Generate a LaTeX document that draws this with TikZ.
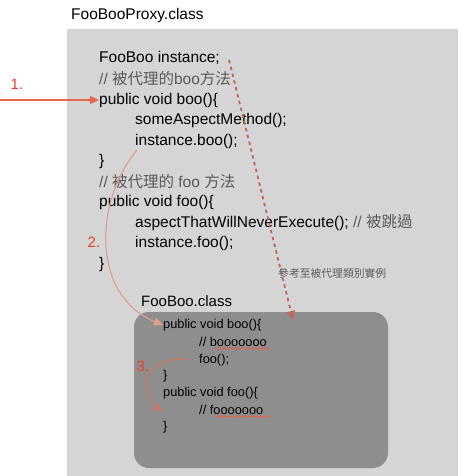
\documentclass[tikz,border=0pt]{standalone}
\usepackage{fontspec}
\setmainfont{Liberation Sans}
\newfontfamily\cjk{Noto Sans CJK TC}
\usetikzlibrary{arrows.meta,decorations.pathmorphing}
\definecolor{lightbg}{HTML}{D5D5D5}
\definecolor{darkbg}{HTML}{8E8E8E}
\definecolor{redlab}{HTML}{E8402A}
\definecolor{arrone}{HTML}{E8674F}
\definecolor{arrtwo}{HTML}{E0A090}
\definecolor{arrthree}{HTML}{C87868}
\definecolor{dasharr}{HTML}{C0675A}
\definecolor{cmt}{HTML}{5A5A5A}
\tikzset{
  codeline/.style={anchor=west, inner sep=0pt, font=\fontsize{15.5}{18}\selectfont, text=black},
  comment/.style={codeline, text=cmt},
  smallcode/.style={anchor=west, inner sep=0pt, font=\fontsize{12.8}{15}\selectfont, text=black},
  title/.style={anchor=west, inner sep=0pt, font=\fontsize{15.5}{18}\selectfont},
  numlab/.style={anchor=center, inner sep=0pt, font=\fontsize{15}{17}\selectfont, text=redlab},
  squiggle/.style={draw=redlab!85!white, line width=0.5pt, decorate, decoration={snake, amplitude=0.8pt, segment length=2.2pt}},
}
\begin{document}
\begin{tikzpicture}[x=1pt,y=-1pt]
\useasboundingbox (0,0) rectangle (468,476);
\fill[white] (0,0) rectangle (468,476);
% proxy class box
\fill[lightbg] (67,29) rectangle (458,476);
\node[title] (ptitle) at (71,15) {FooBooProxy.class};
% proxy code
\node[codeline] (l1) at (99,58) {FooBoo instance;};
\node[comment] (l2) at (99,79) {// {\cjk 被代理的}boo{\cjk 方法}};
\node[codeline] (l3) at (99,100) {public void boo()\{};
\node[codeline] (l4) at (135,120) {someAspectMethod();};
\node[codeline] (l5) at (135,141) {instance.boo();};
\node[codeline] (l6) at (99,161) {\}};
\node[comment] (l7) at (99,182) {// {\cjk 被代理的} foo {\cjk 方法}};
\node[codeline] (l8) at (99,202) {public void foo()\{};
\node[codeline] (l9) at (135,223) {aspectThatWillNeverExecute(); \textcolor{cmt}{// {\cjk 被跳過}}};
\node[codeline] (l10) at (135,243) {instance.foo();};
\node[codeline] (l11) at (99,264) {\}};
% inner class box
\fill[darkbg, rounded corners=15pt] (134,312) rectangle (388,468);
\node[codeline, font=\fontsize{15}{17}\selectfont] (ititle) at (141,301) {FooBoo.class};
\node[smallcode] (m1) at (163,325) {public void boo()\{};
\node[smallcode] (m2) at (199,342) {// booooooo};
\node[smallcode] (m3) at (199,360) {foo();};
\node[smallcode] (m4) at (163,376) {\}};
\node[smallcode] (m5) at (163,393) {public void foo()\{};
\node[smallcode] (m6) at (199,410) {// fooooooo};
\node[smallcode] (m7) at (163,427) {\}};
\draw[squiggle] (215,348.5) -- (271,348.5);
\draw[squiggle] (215,416.5) -- (271,416.5);
% arrow 1
\coordinate (s1) at (0,100);
\draw[arrone, line width=1.3pt, -{Triangle[length=9pt,width=8pt]}] (s1) -- (l3.west);
\node[numlab] (n1) at (17,84) {1.};
% dashed arrow
\coordinate (d0) at (229,60);
\coordinate (d1) at (293,320);
\draw[dasharr, line width=1.8pt, dash pattern=on 3.5pt off 3.5pt, -{Triangle[length=9pt,width=8pt]}] (d0) -- (d1);
\node[anchor=west, inner sep=0pt, font=\cjk\fontsize{10.8}{12}\selectfont, text=cmt] (dlab) at (278,273) {參考至被代理類別實例};
% arrow 2
\coordinate (a2s) at (137,150);
\draw[arrtwo, line width=1.2pt, -{Triangle[length=9pt,width=8pt]}] (a2s) .. controls (95,200) and (90,295) .. (m1.west);
\node[numlab] (n2) at (94,242) {2.};
% arrow 3
\coordinate (a3s) at (189,359);
\coordinate (a3e) at (162,412);
\draw[arrthree, line width=1.3pt, -{Triangle[length=9pt,width=8pt]}] (a3s) .. controls (140,357) and (140,392) .. (a3e);
\node[numlab] (n3) at (143,366) {3.};
\end{tikzpicture}
\end{document}
